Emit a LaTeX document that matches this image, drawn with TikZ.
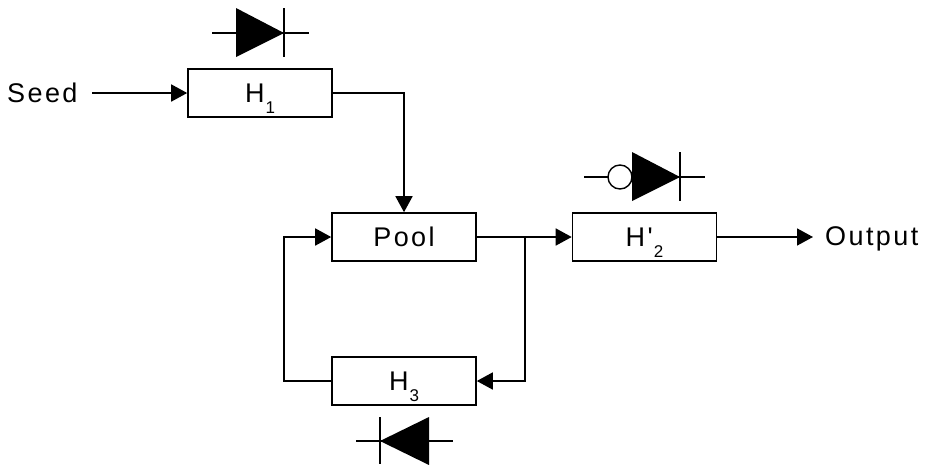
\documentclass[tikz,border=0pt]{standalone}
\usepackage{fontspec}
\setmainfont[LetterSpace=9,Ligatures=TeXOff]{Liberation Sans}
\usetikzlibrary{arrows.meta,calc}
\tikzset{
  x=1pt,y=-1pt,
  blockbox/.style={draw=black,line width=1.6pt,minimum width=144pt,minimum height=48pt,inner sep=0pt,fill=white,font=\fontsize{27}{30}\selectfont},
  lbl/.style={inner sep=0pt,font=\fontsize{27}{30}\selectfont},
  conn/.style={draw=black,line width=1.6pt,-{Triangle[length=16pt,width=17pt]}},
  lead/.style={draw=black,line width=1.4pt},
}
\newcommand{\subtxt}[1]{\smash{\raisebox{-11pt}{\fontsize{17}{18}\selectfont #1}}}
\begin{document}
\begin{tikzpicture}
\useasboundingbox (0,0) rectangle (926,464);
\node[blockbox] (h1) at (260,93) {H\kern1pt\subtxt{1}};
\node[blockbox] (pool) at (404,237) {Pool};
\node[blockbox] (h3) at (404,381) {H\kern1pt\subtxt{3}};
\node[blockbox] (h2) at (644.5,237) {H'\kern1pt\subtxt{2}};
\node[lbl,anchor=base west] (seed) at (7,102) {Seed};
\node[lbl,anchor=base west] (out) at (825,245.5) {Output};
\coordinate (seedend) at (92,93);
\coordinate (outend) at (813,237);
\coordinate (j) at (525,237);
\coordinate (c1) at (404,93);
\coordinate (c2) at (525,381);
\coordinate (c3) at (284,381);
\coordinate (c4) at (284,237);
\draw[conn] (seedend) -- (h1.west);
\draw[conn] (h1.east) -- (c1) -- (pool.north);
\draw[conn] (pool.east) -- (h2.west);
\draw[conn] (h2.east) -- (outend);
\draw[conn] (j) -- (c2) -- (h3.east);
\draw[conn] (h3.west) -- (c3) -- (c4) -- (pool.west);
% diode above H1
\draw[lead] (212,33) -- (309,33);
\draw[lead] (284,8) -- (284,57);
\fill[black] (236,8) -- (284,33) -- (236,57) -- cycle;
% diode below H3
\draw[lead] (356,441) -- (453,441);
\draw[lead] (380,417) -- (380,464);
\fill[black] (429,417) -- (380,441) -- (429,465) -- cycle;
% diode with bubble above H'2
\draw[lead] (584,177) -- (705,177);
\draw[lead] (680,152) -- (680,201);
\draw[lead,fill=white] (620,177) circle (12);
\fill[black] (632,152) -- (680,177) -- (632,201) -- cycle;
\end{tikzpicture}
\end{document}
